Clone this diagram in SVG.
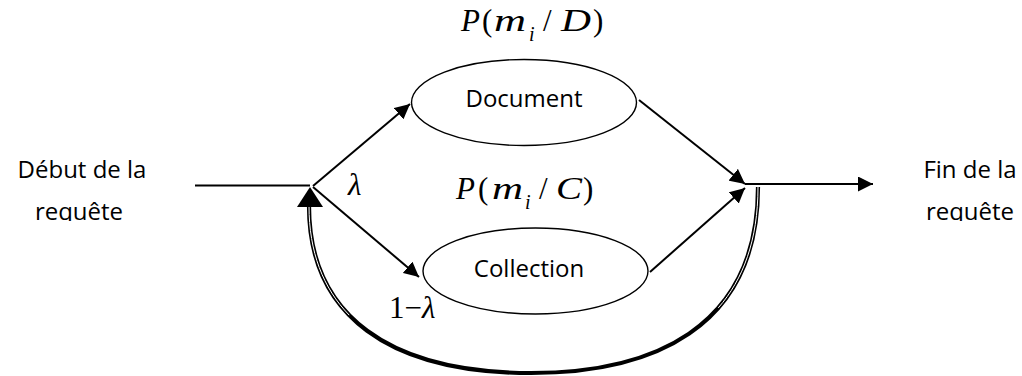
<svg xmlns="http://www.w3.org/2000/svg" width="1022" height="376" viewBox="0 0 1022 376">
<style>
.lbl{font-family:"Open Sans","Noto Sans",sans-serif;font-size:24px;fill:#000}
.math{font-family:"Liberation Serif","Times New Roman",serif;font-size:31px;fill:#000}
.it{font-style:italic}
.sub{font-size:20px}
.node{fill:#fff;stroke:#000;stroke-width:1.4}
.ln{stroke:#000;stroke-width:2;fill:none}
</style>
<defs>
<marker id="ah" markerUnits="userSpaceOnUse" markerWidth="16" markerHeight="15" refX="15" refY="7.5" orient="auto">
<path d="M0,0 L15,7.5 L0,15 z" fill="#000"/>
</marker>
<clipPath id="clipL"><rect x="0" y="0" width="1022" height="221"/></clipPath>
</defs>

<g id="label-debut">
<text class="lbl" x="82" y="178" text-anchor="middle">Début de la</text>
<text class="lbl" x="79" y="220" text-anchor="middle" clip-path="url(#clipL)">requête</text>
</g>
<g id="label-fin">
<text class="lbl" x="970" y="178" text-anchor="middle">Fin de la</text>
<text class="lbl" x="970" y="220" text-anchor="middle" clip-path="url(#clipL)">requête</text>
</g>

<g id="connectors">
<line class="ln" x1="195" y1="185.5" x2="310" y2="185.5"/>
<line class="ln" x1="313" y1="186" x2="410" y2="104" marker-end="url(#ah)"/>
<line class="ln" x1="313" y1="187" x2="419" y2="277" marker-end="url(#ah)"/>
<line class="ln" x1="639" y1="100" x2="745" y2="184" marker-end="url(#ah)"/>
<line class="ln" x1="650" y1="272" x2="745" y2="188" marker-end="url(#ah)"/>
<line class="ln" x1="745" y1="184" x2="873" y2="184" marker-end="url(#ah)"/>
<path d="M758 187 C758 330 650 373 531 373 C390 373 309 316 309 206" fill="none" stroke="#000" stroke-width="4.2"/>
<path d="M758 187 C758 330 650 373 531 373 C390 373 309 316 309 206" fill="none" stroke="#fff" stroke-width="1" stroke-dasharray="130 400 300"/>
<path d="M310 187 L323 207 L297 207 z" fill="#000"/>
</g>

<g id="node-document">
<ellipse class="node" cx="524" cy="102.5" rx="112.5" ry="43"/>
<text class="lbl" x="524" y="107" text-anchor="middle">Document</text>
</g>
<g id="node-collection">
<ellipse class="node" cx="535.5" cy="271" rx="112.5" ry="43"/>
<text class="lbl" x="529" y="277" text-anchor="middle">Collection</text>
</g>

<g id="formula-D">
<text class="math" y="31"><tspan class="it" x="461">P</tspan><tspan x="482">(</tspan><tspan class="it" x="494" textLength="32" lengthAdjust="spacingAndGlyphs">m</tspan><tspan class="it sub" x="529" dy="10">i</tspan><tspan x="543" dy="-10">/</tspan><tspan class="it" x="561" textLength="30" lengthAdjust="spacingAndGlyphs">D</tspan><tspan x="593">)</tspan></text>
</g>
<g id="formula-C">
<text class="math" y="199"><tspan class="it" x="456">P</tspan><tspan x="478">(</tspan><tspan class="it" x="492" textLength="31" lengthAdjust="spacingAndGlyphs">m</tspan><tspan class="it sub" x="525" dy="10">i</tspan><tspan x="539" dy="-10">/</tspan><tspan class="it" x="556" textLength="26" lengthAdjust="spacingAndGlyphs">C</tspan><tspan x="583">)</tspan></text>
</g>
<g id="lambda">
<text class="math it" x="348" y="195">λ</text>
</g>
<g id="one-minus-lambda">
<text class="math" x="389" y="318">1−<tspan class="it">λ</tspan></text>
</g>
</svg>
